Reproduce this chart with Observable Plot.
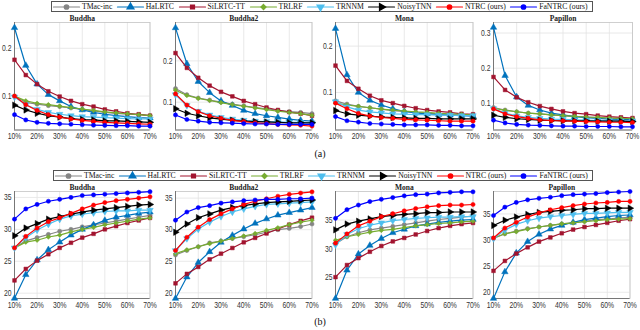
<!DOCTYPE html>
<html>
<head>
<meta charset="utf-8">
<script src="https://cdn.jsdelivr.net/npm/d3@7"></script>
<script src="https://cdn.jsdelivr.net/npm/@observablehq/plot@0.6"></script>
<style>
  html, body { margin: 0; padding: 0; background: #fff; }
  #root { position: relative; width: 640px; height: 330px; overflow: hidden; }
  .legend { position: absolute; height: 11px; border: 1px solid #555; background: #fff;
            display: flex; align-items: center; box-sizing: border-box; padding-left: 1px; }
  .legend .item { display: flex; align-items: center; margin-right: 5px; }
  .legend .item span { font-family: "Liberation Serif", serif; font-size: 7.7px; color: #111; margin-left: 3px; white-space: nowrap; line-height: 9px; }
  .cap { position: absolute; font-family: "Liberation Serif", serif; font-size: 10px; color: #111; transform: translate(-50%, -50%); }
  .panel { position: absolute; }
</style>
</head>
<body>
<div id="root"></div>
<script>
// ---------- data ----------
const rates = [10, 15, 20, 25, 30, 35, 40, 45, 50, 55, 60, 65, 70];
const xTicks = [10, 20, 30, 40, 50, 60, 70];
const methods = ["TMac-inc", "HaLRTC", "SiLRTC-TT", "TRLRF", "TRNNM", "NoisyTNN", "NTRC (ours)", "FaNTRC (ours)"];
const colors = ["#858585", "#0072BD", "#A2142F", "#77AC30", "#4DBEEE", "#000000", "#FF0000", "#0000FF"];
const symbols = ["circle", "triangle", "square", "diamond2", "triangle", "triangle", "circle", "circle"];
const rotations = [0, 0, 0, 0, 180, 90, 0, 0];
const datasets = ["Buddha", "Buddha2", "Mona", "Papillon"];

// (a) RSE, rows in method order
const rseBuddha = [
  [0.100,0.087,0.083,0.080,0.078,0.075,0.072,0.069,0.066,0.064,0.062,0.061,0.059],
  [0.243,0.164,0.125,0.103,0.090,0.078,0.071,0.066,0.062,0.059,0.057,0.055,0.054],
  [0.176,0.144,0.125,0.110,0.099,0.090,0.083,0.078,0.072,0.068,0.064,0.062,0.059],
  [0.100,0.090,0.085,0.082,0.079,0.076,0.073,0.070,0.067,0.065,0.063,0.061,0.059],
  [0.098,0.082,0.072,0.066,0.062,0.059,0.057,0.056,0.055,0.054,0.053,0.052,0.052],
  [0.081,0.071,0.064,0.059,0.056,0.053,0.051,0.050,0.048,0.048,0.047,0.046,0.045],
  [0.100,0.082,0.070,0.061,0.056,0.052,0.049,0.047,0.045,0.044,0.043,0.042,0.041],
  [0.061,0.050,0.045,0.043,0.042,0.041,0.040,0.039,0.0385,0.038,0.038,0.037,0.037]
];
const rseBuddha2 = [
  [0.133,0.118,0.110,0.105,0.100,0.095,0.091,0.087,0.084,0.080,0.077,0.075,0.072],
  [0.280,0.193,0.150,0.123,0.103,0.092,0.080,0.072,0.067,0.063,0.059,0.056,0.054],
  [0.219,0.183,0.159,0.140,0.125,0.114,0.103,0.095,0.087,0.081,0.076,0.072,0.067],
  [0.129,0.116,0.109,0.104,0.099,0.094,0.090,0.086,0.082,0.078,0.075,0.072,0.068],
  [0.118,0.092,0.078,0.069,0.063,0.059,0.056,0.054,0.053,0.052,0.051,0.051,0.050],
  [0.084,0.073,0.067,0.062,0.059,0.056,0.054,0.053,0.052,0.051,0.050,0.050,0.050],
  [0.120,0.093,0.077,0.067,0.061,0.056,0.053,0.050,0.048,0.046,0.045,0.044,0.042],
  [0.069,0.058,0.054,0.051,0.050,0.049,0.048,0.047,0.047,0.046,0.046,0.046,0.046]
];
const rseMona = [
  [0.082,0.075,0.070,0.067,0.064,0.061,0.059,0.057,0.055,0.054,0.052,0.051,0.050],
  [0.238,0.138,0.100,0.083,0.073,0.065,0.059,0.056,0.054,0.052,0.051,0.050,0.049],
  [0.158,0.125,0.108,0.093,0.083,0.077,0.071,0.066,0.062,0.059,0.057,0.054,0.053],
  [0.077,0.073,0.070,0.067,0.064,0.062,0.060,0.058,0.057,0.055,0.054,0.053,0.051],
  [0.080,0.069,0.062,0.058,0.056,0.054,0.053,0.052,0.052,0.051,0.051,0.050,0.050],
  [0.061,0.054,0.051,0.049,0.047,0.046,0.045,0.044,0.044,0.043,0.043,0.043,0.043],
  [0.077,0.065,0.055,0.049,0.046,0.044,0.042,0.041,0.040,0.039,0.038,0.038,0.038],
  [0.048,0.039,0.036,0.033,0.032,0.031,0.030,0.030,0.030,0.029,0.029,0.028,0.028]
];
const rsePapillon = [
  [0.088,0.081,0.076,0.072,0.070,0.067,0.065,0.063,0.061,0.059,0.058,0.057,0.056],
  [0.316,0.179,0.118,0.094,0.081,0.072,0.067,0.062,0.059,0.057,0.055,0.054,0.053],
  [0.175,0.138,0.117,0.103,0.092,0.084,0.077,0.072,0.069,0.065,0.062,0.060,0.058],
  [0.086,0.080,0.076,0.072,0.070,0.067,0.065,0.063,0.061,0.060,0.058,0.057,0.056],
  [0.085,0.072,0.064,0.060,0.057,0.055,0.054,0.053,0.052,0.051,0.051,0.050,0.050],
  [0.066,0.060,0.056,0.054,0.052,0.051,0.050,0.050,0.050,0.049,0.049,0.049,0.048],
  [0.084,0.070,0.062,0.057,0.053,0.051,0.050,0.049,0.048,0.047,0.046,0.046,0.045],
  [0.052,0.044,0.040,0.038,0.037,0.036,0.035,0.035,0.034,0.034,0.034,0.033,0.033]
];

// (b) PSNR, rows in method order
const psnrBuddha = [
  [27.1,28.2,28.7,29.2,29.7,30.0,30.4,30.7,31.0,31.3,31.6,31.9,32.2],
  [19.2,22.9,25.2,26.8,28.0,29.1,30.0,30.7,31.4,31.9,32.2,32.5,32.7],
  [22.0,23.8,25.1,26.1,27.1,27.9,28.7,29.3,30.0,30.5,31.0,31.4,31.8],
  [27.1,28.0,28.3,28.8,29.1,29.6,30.0,30.3,30.7,31.0,31.3,31.6,31.8],
  [27.1,28.7,29.9,30.8,31.6,32.1,32.4,32.6,32.8,32.9,32.9,33.0,33.0],
  [29.0,30.2,30.9,31.6,32.0,32.4,32.7,33.0,33.2,33.4,33.6,33.8,33.9],
  [27.1,28.9,30.2,31.2,31.8,32.5,33.2,33.8,34.2,34.5,34.7,34.9,35.1],
  [31.6,33.2,33.9,34.4,34.7,35.0,35.3,35.4,35.5,35.6,35.7,35.8,35.9]
];
const psnrBuddha2 = [
  [26.0,26.7,27.3,27.9,28.2,28.6,28.9,29.2,29.6,30.0,30.2,30.5,30.9],
  [19.1,22.5,24.8,26.5,28.0,29.1,30.1,31.0,31.7,32.3,32.7,33.1,33.5],
  [21.5,23.0,24.1,25.3,26.2,27.1,28.0,28.7,29.4,30.1,30.8,31.4,31.9],
  [26.2,26.8,27.3,27.8,28.2,28.6,29.0,29.4,29.9,30.3,30.8,31.2,31.5],
  [26.7,28.6,30.1,31.2,32.1,32.8,33.3,33.7,34.0,34.1,34.2,34.3,34.4],
  [29.6,30.9,31.9,32.5,33.1,33.5,33.8,34.1,34.3,34.4,34.5,34.6,34.7],
  [26.7,28.8,30.4,31.6,32.5,33.3,34.0,34.5,34.9,35.3,35.6,35.8,36.0],
  [31.5,32.8,33.5,33.8,34.2,34.4,34.6,34.7,34.8,34.8,34.9,34.9,35.0]
];
const psnrMona = [
  [30.9,32.1,32.8,33.3,33.6,33.9,34.2,34.5,34.8,35.1,35.3,35.5,35.7],
  [21.4,26.3,29.1,30.6,31.8,32.8,33.4,34.0,34.3,34.6,34.8,35.0,35.1],
  [25.1,27.2,28.4,29.5,30.5,31.3,31.9,32.5,33.1,33.6,34.0,34.3,34.5],
  [31.5,32.1,32.5,32.9,33.2,33.4,33.7,34.0,34.2,34.4,34.5,34.7,34.8],
  [30.7,32.5,33.5,34.1,34.5,34.9,35.1,35.3,35.4,35.5,35.5,35.6,35.6],
  [33.3,34.3,34.8,35.2,35.6,35.8,36.0,36.1,36.3,36.3,36.4,36.4,36.4],
  [31.0,32.6,34.0,34.8,35.6,36.1,36.6,37.0,37.3,37.5,37.6,37.6,37.7],
  [35.3,36.8,37.6,38.2,38.6,38.9,39.2,39.4,39.5,39.7,39.8,39.9,39.9]
];
const psnrPapillon = [
  [30.3,31.2,31.7,32.2,32.5,32.8,33.1,33.3,33.6,33.9,34.0,34.2,34.4],
  [18.8,23.9,27.5,29.7,31.1,32.1,32.8,33.4,33.9,34.2,34.5,34.7,34.8],
  [24.1,26.0,27.4,28.6,29.7,30.5,31.3,32.0,32.5,32.9,33.3,33.7,34.0],
  [30.4,31.2,31.6,32.1,32.5,32.8,33.1,33.3,33.5,33.7,33.9,34.0,34.1],
  [30.3,31.9,33.0,33.7,34.2,34.5,34.7,34.9,35.1,35.1,35.2,35.3,35.3],
  [32.8,33.8,34.4,34.9,35.3,35.5,35.7,35.8,36.0,36.0,36.1,36.1,36.1],
  [30.4,32.3,33.4,34.4,35.2,35.8,36.2,36.6,36.9,37.1,37.2,37.4,37.4],
  [34.7,36.3,37.2,37.7,38.0,38.2,38.5,38.7,38.8,38.9,39.1,39.2,39.3]
];

const rseTicks = [0.1, 0.2, 0.3];
const psnrTicks = [20, 25, 30, 35, 40];

// ---------- layout ----------
const root = document.getElementById("root");
const colsGeo = [
  [{l: 13.5, r: 149}, {l: 174.5, r: 311}, {l: 334.5, r: 472}, {l: 493, r: 632}],
  [{l: 13.5, r: 149}, {l: 174.5, r: 311}, {l: 334.5, r: 472}, {l: 493, r: 629.5}]
];
const rowsGeo = [{t: 22, b: 129.5}, {t: 191, b: 298}];
const ML = 24, MR = 10, MT = 12, MB = 16;

function drawPanel(col, row, title, table, domain, ticks, fmt) {
  const g = colsGeo[row][col], rg = rowsGeo[row];
  const w = g.r - g.l, h = rg.b - rg.t;
  const yt = ticks.filter(t => t >= domain[0] && t <= domain[1]);
  const marks = [
    Plot.gridX(xTicks, {stroke: "#e3e3e3", strokeOpacity: 1, strokeWidth: 0.8}),
    Plot.gridY(yt, {stroke: "#e3e3e3", strokeOpacity: 1, strokeWidth: 0.8}),
    Plot.frame({stroke: "#c4c4c4", strokeWidth: 0.8}),
    Plot.ruleX([10], {stroke: "#777", strokeWidth: 1}),
    Plot.ruleY([domain[0]], {stroke: "#777", strokeWidth: 1}),
    Plot.axisX(xTicks, {tickSize: 0, tickPadding: 3, tickFormat: d => d + "%", label: null}),
    Plot.axisY(yt, {tickSize: 0, tickPadding: 3, tickFormat: fmt, label: null})
  ];
  methods.forEach((m, i) => {
    const pts = rates.map((r, j) => ({method: m, rate: r, value: table[i][j]}));
    marks.push(Plot.line(pts, {x: "rate", y: "value", stroke: colors[i], strokeWidth: 1.2}));
    marks.push(Plot.dot(pts, {x: "rate", y: "value", symbol: symbols[i], fill: colors[i], stroke: colors[i],
      strokeWidth: 0.5, r: symbols[i] === "triangle" ? 2.4 : 2.1, rotate: rotations[i]}));
  });
  marks.push(Plot.text([title], {frameAnchor: "top", dy: -2, lineAnchor: "bottom", text: d => d,
    fontFamily: "Liberation Serif", fontWeight: "bold", fontSize: 7.5, fill: "#222"}));
  const svg = Plot.plot({
    width: w + ML + MR, height: h + MT + MB,
    marginLeft: ML, marginRight: MR, marginTop: MT, marginBottom: MB,
    x: {domain: [10, 70]},
    y: {domain},
    style: {fontFamily: "Liberation Sans", fontSize: "8.5px", color: "#333", background: "transparent", overflow: "visible"},
    marks
  });
  // narrow the tick labels horizontally, as in the (rescaled) original figure
  svg.querySelectorAll('g[aria-label$="tick label"] text').forEach(t => {
    const tr = t.getAttribute("transform") || "";
    t.setAttribute("transform", tr + " scale(0.8,1)");
  });
  svg.classList.add("panel");
  svg.style.left = (g.l - ML) + "px";
  svg.style.top = (rg.t - MT) + "px";
  root.appendChild(svg);
}

function drawLegend(left, top, width) {
  const box = document.createElement("div");
  box.className = "legend";
  box.style.left = left + "px";
  box.style.top = top + "px";
  box.style.width = width + "px";
  methods.forEach((m, i) => {
    const item = document.createElement("div");
    item.className = "item";
    const sw = Plot.plot({
      width: 26, height: 9, margin: 0,
      x: {domain: [0, 2], axis: null}, y: {domain: [0, 1], axis: null},
      style: {background: "transparent", overflow: "visible"},
      marks: [
        Plot.line([{x: 0, y: 0.5}, {x: 2, y: 0.5}], {x: "x", y: "y", stroke: colors[i], strokeWidth: 1.2}),
        Plot.dot([{x: 1, y: 0.5}], {x: "x", y: "y", symbol: symbols[i], fill: colors[i], stroke: colors[i],
          r: symbols[i] === "triangle" ? 2.4 : 2.1, rotate: rotations[i]})
      ]
    });
    item.appendChild(sw);
    const s = document.createElement("span");
    s.textContent = m;
    item.appendChild(s);
    box.appendChild(item);
  });
  root.appendChild(box);
}

function caption(text, x, y) {
  const d = document.createElement("div");
  d.className = "cap";
  d.style.left = x + "px";
  d.style.top = y + "px";
  d.textContent = text;
  root.appendChild(d);
}

const rseTables = [rseBuddha, rseBuddha2, rseMona, rsePapillon];
const rseDomains = [[0.029, 0.254], [0.0325, 0.293], [0.019, 0.251], [0.024, 0.330]];
const psnrTables = [psnrBuddha, psnrBuddha2, psnrMona, psnrPapillon];
const psnrDomains = [[19.17, 35.93], [19.1, 36.05], [21.4, 39.95], [18.8, 39.3]];

drawLegend(51, 1, 542);
datasets.forEach((name, c) => drawPanel(c, 0, name, rseTables[c], rseDomains[c], rseTicks, d => d3.format(".1f")(d)));
caption("(a)", 320, 153);
drawLegend(53, 170, 540);
datasets.forEach((name, c) => drawPanel(c, 1, name, psnrTables[c], psnrDomains[c], psnrTicks, d => String(d)));
caption("(b)", 320, 321);
</script>
</body>
</html>
